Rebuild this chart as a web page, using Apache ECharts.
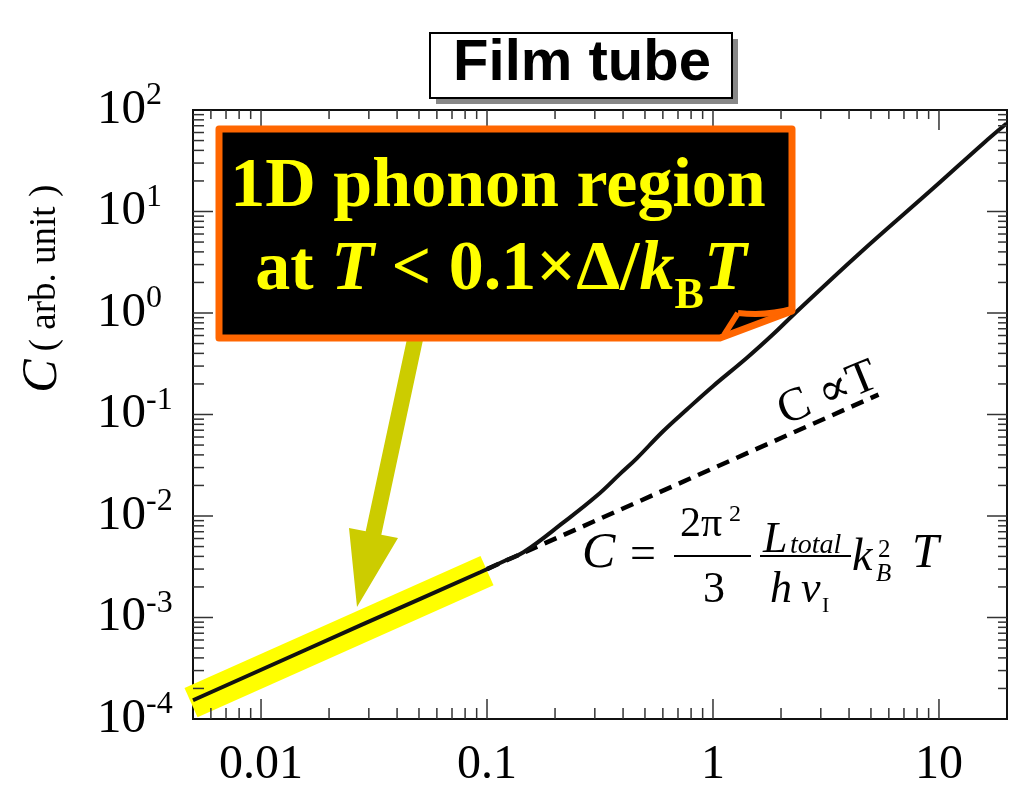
<!DOCTYPE html>
<html>
<head>
<meta charset="utf-8">
<script src="https://cdn.jsdelivr.net/npm/echarts@6/dist/echarts.min.js"></script>
<style>
  html, body { margin: 0; padding: 0; background: #fff; }
  #main { width: 1020px; height: 789px; }
</style>
</head>
<body>
<div id="main"></div>
<script>
// Heat capacity of the film tube versus temperature (log-log)
const tempT = [0.005, 0.0275, 0.0933, 0.12, 0.145, 0.218, 0.306, 0.388, 0.46, 0.6, 0.766, 1.0, 1.41, 1.85, 2.27, 4.47, 9.43, 15.7, 19.9];
const heatC = [1.53e-4, 8.35e-4, 2.79e-3, 3.62e-3, 4.39e-3, 8.65e-3, 1.58e-2, 2.6e-2, 3.7e-2, 6.8e-2, 0.112, 0.190, 0.36, 0.62, 0.962, 3.9, 16.9, 46.8, 73.5];

// Linear-in-T law (dashed)
const fitT = [0.1, 5.4];
const fitC = [0.003, 0.157];

// Highlighted 1D phonon stretch
const bandT = [0.0049, 0.1];
const bandC = [1.45e-4, 2.9e-3];

// Axis ranges and labelled ticks
const X_MIN = 0.005, X_MAX = 20;
const Y_MIN = 1e-4, Y_MAX = 100;
const xTickValues = [0.01, 0.1, 1, 10];
const xTickLabels = ['0.01', '0.1', '1', '10'];
const yTickValues = [1e-4, 1e-3, 1e-2, 1e-1, 1, 10, 100];
const yTickExponents = ['-4', '-3', '-2', '-1', '0', '1', '2'];

const SERIF = "'Liberation Serif', 'DejaVu Serif', serif";
const SANS = "'Liberation Sans', Arial, sans-serif";

// Decade ticks (1..9 x 10^n) strictly inside an axis range
function decadeTicks(lo, hi) {
  const major = [], minor = [];
  for (let e = Math.floor(Math.log10(lo)); e <= Math.ceil(Math.log10(hi)); e++) {
    for (let k = 1; k <= 9; k++) {
      const v = Number((k * Math.pow(10, e)).toPrecision(6));
      if (v <= lo * 1.0001 || v >= hi * 0.9999) continue;
      (k === 1 ? major : minor).push(v);
    }
  }
  return { major, minor };
}

// Tick marks on all four sides: [x, y, side, length]
const xt = decadeTicks(X_MIN, X_MAX);
const yt = decadeTicks(Y_MIN, Y_MAX);
const tickMarks = [];
xt.major.forEach(v => { tickMarks.push([v, Y_MIN, 0, 20]); tickMarks.push([v, Y_MAX, 1, 20]); });
xt.minor.forEach(v => { tickMarks.push([v, Y_MIN, 0, 11]); tickMarks.push([v, Y_MAX, 1, 9]); });
yt.major.forEach(v => { tickMarks.push([X_MIN, v, 2, 20]); tickMarks.push([X_MAX, v, 3, 20]); });
yt.minor.forEach(v => { tickMarks.push([X_MIN, v, 2, 11]); tickMarks.push([X_MAX, v, 3, 9]); });

function matchTick(list, v) {
  return list.findIndex(t => Math.abs(Math.log10(v) - Math.log10(t)) < 1e-6);
}

const chart = echarts.init(document.getElementById('main'), null, { renderer: 'canvas' });

const option = {
  animation: false,
  backgroundColor: '#ffffff',
  textStyle: { fontFamily: SERIF },
  grid: {
    left: 193, right: 13, top: 110, bottom: 68,
    show: true, borderColor: '#111', borderWidth: 2, backgroundColor: 'transparent'
  },
  xAxis: {
    type: 'log', logBase: 10, min: X_MIN, max: X_MAX,
    axisLine: { show: false }, axisTick: { show: false }, splitLine: { show: false },
    axisLabel: {
      margin: 22, fontSize: 48, fontFamily: SERIF, color: '#000',
      formatter: v => { const i = matchTick(xTickValues, v); return i < 0 ? '' : xTickLabels[i]; }
    }
  },
  yAxis: {
    type: 'log', logBase: 10, min: Y_MIN, max: Y_MAX,
    axisLine: { show: false }, axisTick: { show: false }, splitLine: { show: false },
    axisLabel: {
      margin: 96, align: 'left', color: '#000',
      formatter: v => {
        const i = matchTick(yTickValues, v);
        return i < 0 ? '' : '{b|10}{s|' + yTickExponents[i] + '}';
      },
      rich: {
        b: { fontSize: 49, fontFamily: SERIF, lineHeight: 60, color: '#000' },
        s: { fontSize: 32, fontFamily: SERIF, lineHeight: 34, verticalAlign: 'top', color: '#000' }
      }
    }
  },
  series: [
    {
      name: '1D band', type: 'line', clip: false, z: 1, silent: true,
      data: bandT.map((t, i) => [t, bandC[i]]),
      showSymbol: false,
      lineStyle: { color: '#ffff00', width: 32, cap: 'butt' }
    },
    {
      name: 'C ∝ T', type: 'line', z: 3, silent: true,
      data: fitT.map((t, i) => [t, fitC[i]]),
      showSymbol: false,
      lineStyle: { color: '#000', width: 4.5, type: [13, 8] }
    },
    {
      name: 'C', type: 'line', z: 4, silent: true,
      data: tempT.map((t, i) => [t, heatC[i]]),
      showSymbol: false, smooth: 0.4,
      lineStyle: { color: '#111', width: 4 }
    },
    {
      name: 'ticks', type: 'custom', z: 5, silent: true,
      data: tickMarks,
      renderItem: (params, api) => {
        const p = api.coord([api.value(0), api.value(1)]);
        const side = api.value(2), len = api.value(3);
        let x2 = p[0], y2 = p[1];
        if (side === 0) y2 -= len;
        else if (side === 1) y2 += len;
        else if (side === 2) x2 += len;
        else x2 -= len;
        return {
          type: 'line',
          shape: { x1: p[0], y1: p[1], x2: x2, y2: y2 },
          style: { stroke: '#333', lineWidth: 1.5 }
        };
      }
    }
  ],
  graphic: [
    // y-axis title
    {
      type: 'text', x: 43, y: 376, rotation: Math.PI / 2, z: 50,
      style: { text: 'C', font: 'italic 50px ' + SERIF, fill: '#000', align: 'center', verticalAlign: 'middle' }
    },
    {
      type: 'text', x: 45, y: 268, rotation: Math.PI / 2, z: 50,
      style: { text: '( arb. unit )', font: '37px ' + SERIF, fill: '#000', align: 'center', verticalAlign: 'middle' }
    },
    // Title box with drop shadow
    { type: 'rect', z: 50, shape: { x: 436, y: 39, width: 302, height: 65 }, style: { fill: '#888' } },
    { type: 'rect', z: 51, shape: { x: 430, y: 33, width: 302, height: 65 }, style: { fill: '#fff', stroke: '#000', lineWidth: 2 } },
    {
      type: 'text', z: 52, x: 582, y: 64,
      style: { text: 'Film tube', font: 'bold 58px ' + SANS, fill: '#000', align: 'center', verticalAlign: 'middle' }
    },
    // Arrow pointing at the highlighted stretch
    {
      type: 'polygon', z: 60,
      shape: { points: [[408.9, 330], [424.5, 333], [381.3, 534.7], [398, 538], [357, 607], [349, 528], [365.7, 531.3]] },
      style: { fill: '#cccc00' }
    },
    // Callout box
    {
      type: 'polygon', z: 70,
      shape: { points: [[219, 129], [792, 129], [792, 311], [720, 338], [219, 338]] },
      style: { fill: '#000', stroke: '#ff6600', lineWidth: 7, lineJoin: 'round' }
    },
    {
      type: 'bezierCurve', z: 71,
      shape: { x1: 792, y1: 309, cpx1: 768, cpy1: 316, x2: 738, y2: 313 },
      style: { stroke: '#ff6600', lineWidth: 6, fill: null }
    },
    {
      type: 'line', z: 71,
      shape: { x1: 738, y1: 313, x2: 724, y2: 335 },
      style: { stroke: '#ff6600', lineWidth: 6 }
    },
    {
      type: 'text', z: 72, x: 498, y: 188,
      style: {
        text: '1D phonon region', font: 'bold 70px ' + SERIF, fill: '#ffff00',
        align: 'center', verticalAlign: 'middle'
      }
    },
    {
      type: 'text', z: 72, x: 501, y: 271,
      style: {
        text: '{n|at }{i|T}{n| < 0.1×Δ/}{i|k}{sub|B}{i|T}',
        align: 'center', verticalAlign: 'middle',
        rich: {
          n: { fontSize: 70, fontWeight: 'bold', fontFamily: SERIF, fill: '#ffff00', lineHeight: 96 },
          i: { fontSize: 70, fontWeight: 'bold', fontStyle: 'italic', fontFamily: SERIF, fill: '#ffff00', lineHeight: 96 },
          sub: { fontSize: 44, fontWeight: 'bold', fontFamily: SERIF, fill: '#ffff00', lineHeight: 48, verticalAlign: 'bottom' }
        }
      }
    },
    // Slope note beside the dashed line
    {
      type: 'text', z: 50, x: 828, y: 394, rotation: 0.39,
      style: { text: 'C ∝T', font: '47px ' + SERIF, fill: '#000', align: 'center', verticalAlign: 'middle' }
    },
    // Formula for the linear law
    { type: 'text', z: 50, x: 582, y: 554, style: { text: 'C', font: 'italic 50px ' + SERIF, fill: '#000', verticalAlign: 'middle' } },
    { type: 'text', z: 50, x: 630, y: 556, style: { text: '=', font: '46px ' + SERIF, fill: '#000', verticalAlign: 'middle' } },
    { type: 'text', z: 50, x: 680, y: 525, style: { text: '2π', font: '42px ' + SERIF, fill: '#000', verticalAlign: 'middle' } },
    { type: 'text', z: 50, x: 729, y: 515, style: { text: '2', font: '24px ' + SERIF, fill: '#000', verticalAlign: 'middle' } },
    { type: 'line', z: 50, shape: { x1: 674, y1: 556, x2: 751, y2: 556 }, style: { stroke: '#000', lineWidth: 2 } },
    { type: 'text', z: 50, x: 714, y: 590, style: { text: '3', font: '44px ' + SERIF, fill: '#000', align: 'center', verticalAlign: 'middle' } },
    { type: 'text', z: 50, x: 763, y: 540, style: { text: 'L', font: 'italic 44px ' + SERIF, fill: '#000', verticalAlign: 'middle' } },
    { type: 'text', z: 50, x: 790, y: 546, style: { text: 'total', font: 'italic 28px ' + SERIF, fill: '#000', verticalAlign: 'middle' } },
    { type: 'line', z: 50, shape: { x1: 760, y1: 556, x2: 851, y2: 556 }, style: { stroke: '#000', lineWidth: 2 } },
    { type: 'text', z: 50, x: 770, y: 590, style: { text: 'h', font: 'italic 44px ' + SERIF, fill: '#000', verticalAlign: 'middle' } },
    { type: 'text', z: 50, x: 801, y: 590, style: { text: 'v', font: 'italic 44px ' + SERIF, fill: '#000', verticalAlign: 'middle' } },
    { type: 'text', z: 50, x: 822, y: 606, style: { text: 'I', font: '22px ' + SERIF, fill: '#000', verticalAlign: 'middle' } },
    { type: 'text', z: 50, x: 852, y: 558, style: { text: 'k', font: 'italic 46px ' + SERIF, fill: '#000', verticalAlign: 'middle' } },
    { type: 'text', z: 50, x: 878, y: 550, style: { text: '2', font: '25px ' + SERIF, fill: '#000', verticalAlign: 'middle' } },
    { type: 'text', z: 50, x: 876, y: 574, style: { text: 'B', font: 'italic 25px ' + SERIF, fill: '#000', verticalAlign: 'middle' } },
    { type: 'text', z: 50, x: 912, y: 554, style: { text: 'T', font: 'italic 48px ' + SERIF, fill: '#000', verticalAlign: 'middle' } }
  ]
};

chart.setOption(option);
</script>
</body>
</html>
